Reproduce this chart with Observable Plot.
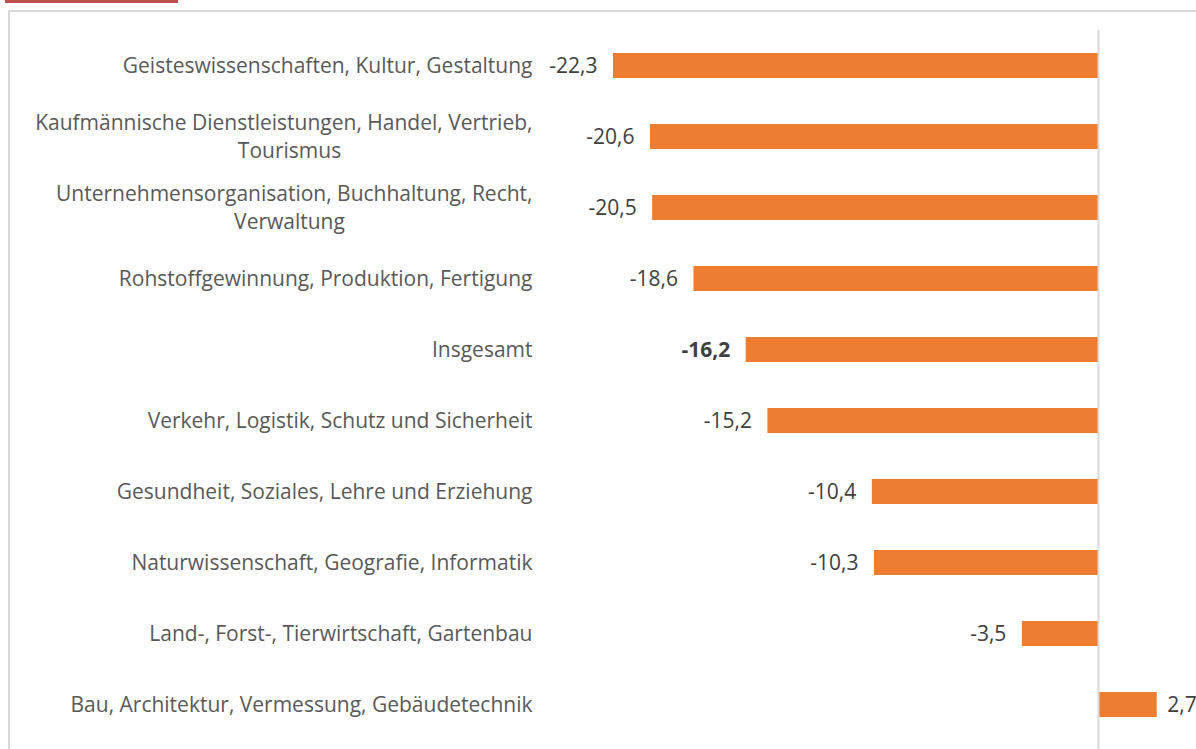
<!DOCTYPE html>
<html>
<head>
<meta charset="utf-8">
<script src="https://cdn.jsdelivr.net/npm/d3@7"></script>
<script src="https://cdn.jsdelivr.net/npm/@observablehq/plot@0.6"></script>
<style>
  html, body { margin: 0; padding: 0; background: #fff; }
  #wrap { position: relative; width: 1196px; height: 749px; overflow: hidden; }
  #redline { position: absolute; left: 5px; top: 0px; width: 173px; height: 3px; background: #C0504D; }
  #border { position: absolute; left: 8px; top: 10px; width: 1200px; height: 800px; border-top: 2px solid #d9d9d9; border-left: 2px solid #d9d9d9; }
  #chart { position: absolute; left: 0; top: 0; }
</style>
</head>
<body>
<div id="wrap">
  <div id="redline"></div>
  <div id="border"></div>
  <div id="chart"></div>
</div>
<script>
const categories = [
  "Geisteswissenschaften, Kultur, Gestaltung",
  "Kaufmännische Dienstleistungen, Handel, Vertrieb,\nTourismus",
  "Unternehmensorganisation, Buchhaltung, Recht,\nVerwaltung",
  "Rohstoffgewinnung, Produktion, Fertigung",
  "Insgesamt",
  "Verkehr, Logistik, Schutz und Sicherheit",
  "Gesundheit, Soziales, Lehre und Erziehung",
  "Naturwissenschaft, Geografie, Informatik",
  "Land-, Forst-, Tierwirtschaft, Gartenbau",
  "Bau, Architektur, Vermessung, Gebäudetechnik"
];
const values = [-22.3, -20.6, -20.5, -18.6, -16.2, -15.2, -10.4, -10.3, -3.5, 2.7];
const highlighted = ["Insgesamt"];

const data = categories.map((c, i) => ({cat: c, value: values[i], bold: highlighted.includes(c)}));
const single = data.filter(d => !d.cat.includes("\n"));
const wrapped = data.filter(d => d.cat.includes("\n"));
const fmt = v => v.toFixed(1).replace(".", ",");
const FONT = "Open Sans";
const FS = 21;

const chart = Plot.plot({
  width: 1196,
  height: 749,
  marginTop: 30,
  marginBottom: 0,
  marginLeft: 540,
  marginRight: 0,
  style: {fontFamily: FONT, fontSize: FS + "px", background: "transparent"},
  x: {domain: [-22.3, 0], range: [613, 1098], axis: null},
  y: {type: "band", domain: categories, range: [29.5, 739.5], paddingInner: 0.648, paddingOuter: 0.324, axis: null},
  marks: [
    Plot.barX(data, {x1: 0, x2: "value", y: "cat", fill: "#ED7D31"}),
    Plot.ruleX([0], {stroke: "#d9d9d9", strokeWidth: 2}),
    Plot.text(single, {
      y: "cat", text: "cat", frameAnchor: "left", textAnchor: "end", dx: -8,
      fill: "#595959", fontSize: FS
    }),
    Plot.text(wrapped, {
      y: "cat", text: d => d.cat.split("\n")[0], frameAnchor: "left", textAnchor: "end", dx: -8, dy: -14,
      fill: "#595959", fontSize: FS
    }),
    Plot.text(wrapped, {
      y: "cat", text: d => d.cat.split("\n")[1], frameAnchor: "left", textAnchor: "middle", dx: -251, dy: 14,
      fill: "#595959", fontSize: FS
    }),
    Plot.text(data.filter(d => d.value < 0 && !d.bold), {
      x: "value", y: "cat", text: d => fmt(d.value), textAnchor: "end", dx: -16,
      fill: "#404040", fontSize: FS
    }),
    Plot.text(data.filter(d => d.value < 0 && d.bold), {
      x: "value", y: "cat", text: d => fmt(d.value), textAnchor: "end", dx: -16,
      fill: "#404040", fontSize: FS, fontWeight: "bold"
    }),
    Plot.text(data.filter(d => d.value >= 0), {
      x: "value", y: "cat", text: d => fmt(d.value), textAnchor: "start", dx: 10,
      fill: "#404040", fontSize: FS
    })
  ]
});
document.getElementById("chart").appendChild(chart);
</script>
</body>
</html>
